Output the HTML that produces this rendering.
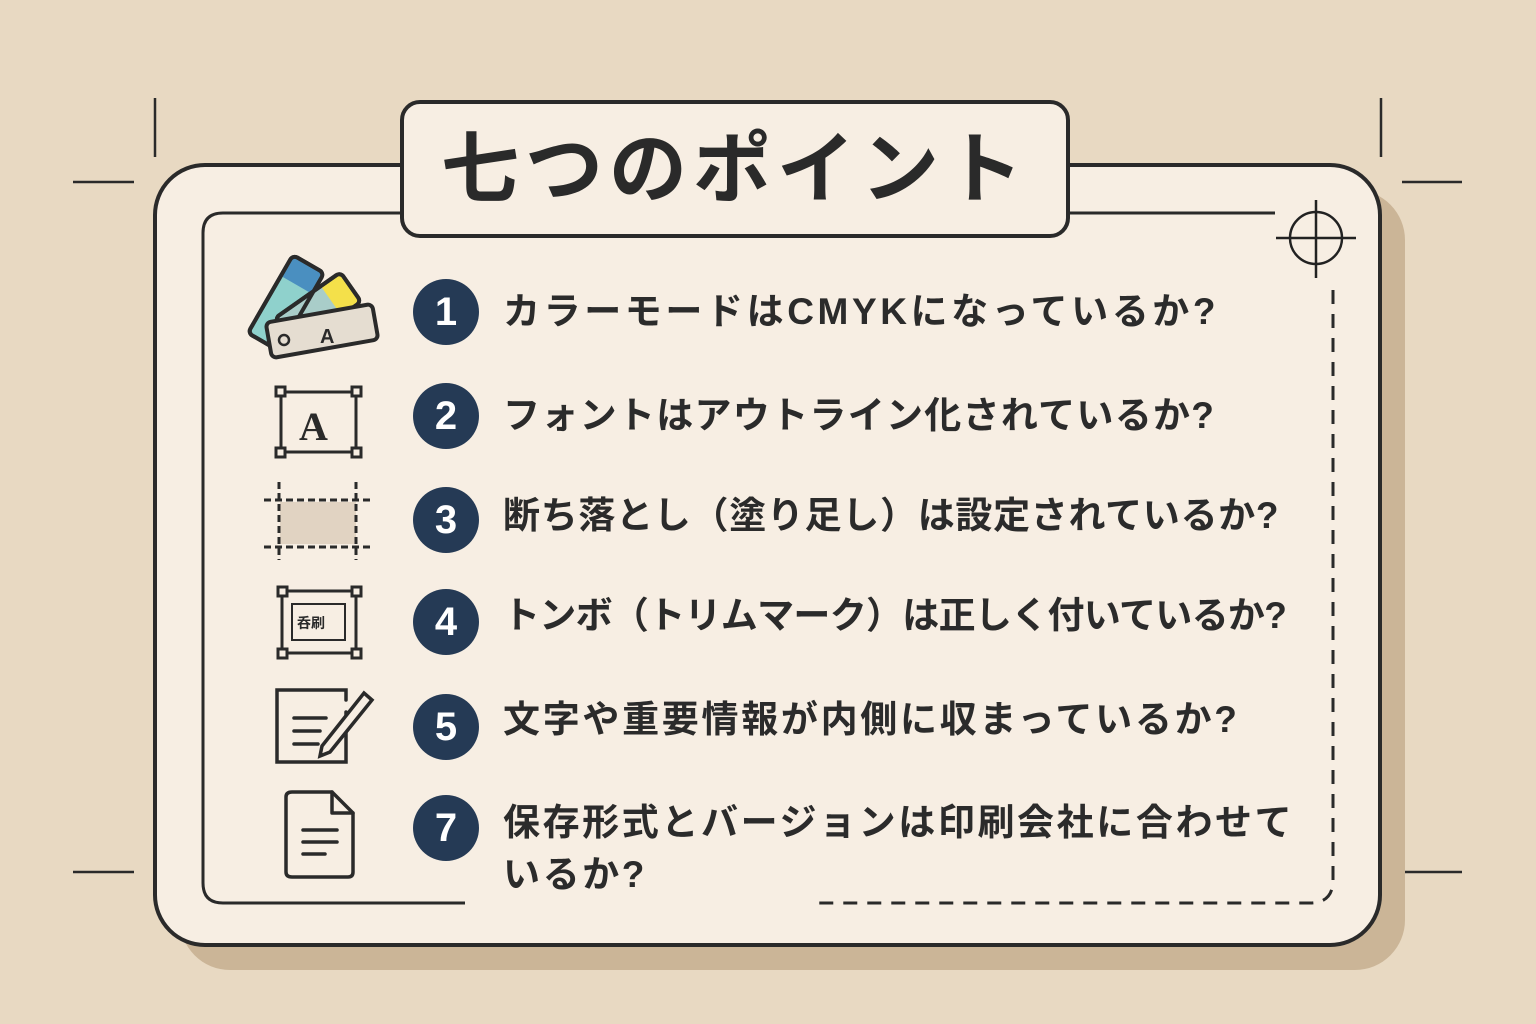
<!DOCTYPE html>
<html><head><meta charset="utf-8"><style>
body{margin:0;width:1536px;height:1024px;background:#e8d9c2;overflow:hidden;position:relative;font-family:"Liberation Sans","Noto Sans CJK JP",sans-serif}
.t{position:absolute;left:503px;font-size:37px;font-weight:bold;color:#2b2b2b;white-space:nowrap;line-height:52px}
.c{position:absolute;left:413px;width:66px;height:66px;border-radius:50%;background:#253a55;color:#fff;font-size:40px;font-weight:bold;text-align:center;line-height:66px}
</style></head><body>
<svg width="1536" height="1024" style="position:absolute;left:0;top:0">
<g stroke="#2a2a2a" stroke-width="2.5">
<line x1="155" y1="98" x2="155" y2="157"/><line x1="73" y1="182" x2="134" y2="182"/>
<line x1="1381" y1="98" x2="1381" y2="157"/><line x1="1402" y1="182" x2="1462" y2="182"/>
<line x1="73" y1="872" x2="134" y2="872"/><line x1="1402" y1="872" x2="1462" y2="872"/>
</g>
<rect x="180" y="190" width="1225" height="780" rx="50" fill="#cbb597"/>
<rect x="155" y="165" width="1225" height="780" rx="50" fill="#f7eee3" stroke="#2a2a2a" stroke-width="4"/>
<path d="M400 213 H223 Q203 213 203 233 V883 Q203 903 223 903 H465" fill="none" stroke="#2a2a2a" stroke-width="3"/>
<line x1="1068" y1="213" x2="1275" y2="213" stroke="#2a2a2a" stroke-width="3"/>
<path d="M1333 290 V880 Q1333 903 1310 903 H818" fill="none" stroke="#2a2a2a" stroke-width="3" stroke-dasharray="14 10"/>
<g stroke="#222" stroke-width="2.5" fill="none"><circle cx="1316" cy="238" r="26"/><line x1="1276" y1="238" x2="1356" y2="238"/><line x1="1316" y1="200" x2="1316" y2="278"/></g>
<rect x="402" y="102" width="666" height="134" rx="18" fill="#f7eee3" stroke="#2a2a2a" stroke-width="4"/>
<!-- icon1 swatches -->
<g stroke="#2a2a2a" stroke-width="4" stroke-linejoin="round">
<rect x="268" y="258" width="36" height="90" rx="5" fill="#8fd1cc" transform="rotate(30 286 303)"/>
<rect x="300" y="270" width="36" height="80" rx="5" fill="#a9cdc9" transform="rotate(55 318 310)"/>
</g>
<rect x="270" y="260" width="32" height="22" fill="#4a8fc0" transform="rotate(30 286 303)"/>
<rect x="302" y="272" width="32" height="22" fill="#f4e04a" transform="rotate(55 318 310)"/>
<g stroke="#2a2a2a" stroke-width="4" stroke-linejoin="round">
<rect x="268" y="258" width="36" height="90" rx="5" fill="none" transform="rotate(30 286 303)"/>
<rect x="300" y="270" width="36" height="80" rx="5" fill="none" transform="rotate(55 318 310)"/>
<rect x="268" y="313" width="108" height="36" rx="5" fill="#e5ddd1" transform="rotate(-10 322 331)"/>
</g>
<circle cx="284" cy="340" r="5" fill="none" stroke="#2a2a2a" stroke-width="2.5"/>
<text x="320" y="343" font-size="20" font-weight="bold" fill="#2a2a2a" font-family="Liberation Sans">A</text>
<!-- icon2 -->
<g stroke="#2a2a2a" stroke-width="3" fill="#f7eee3">
<line x1="281" y1="392" x2="356" y2="392"/><line x1="281" y1="452" x2="356" y2="452"/>
<line x1="281" y1="392" x2="281" y2="452"/><line x1="356" y1="392" x2="356" y2="452"/>
<rect x="276" y="387" width="9" height="9"/><rect x="352" y="387" width="9" height="9"/>
<rect x="276" y="448" width="9" height="9"/><rect x="352" y="448" width="9" height="9"/>
</g>
<text x="299" y="440" font-size="40" font-weight="bold" fill="#2a2a2a" font-family="Liberation Serif">A</text>
<!-- icon3 -->
<rect x="280" y="502" width="76" height="42" fill="#e1d3c2"/>
<g stroke="#2a2a2a" stroke-width="3" stroke-dasharray="7 4" fill="none">
<line x1="264" y1="500" x2="374" y2="500"/><line x1="264" y1="547" x2="374" y2="547"/>
<line x1="279" y1="482" x2="279" y2="560"/><line x1="356" y1="482" x2="356" y2="560"/>
</g>
<!-- icon4 -->
<g stroke="#2a2a2a" stroke-width="3" fill="#f7eee3">
<line x1="282" y1="591" x2="356" y2="591"/><line x1="282" y1="653" x2="356" y2="653"/>
<line x1="282" y1="591" x2="282" y2="653"/><line x1="356" y1="591" x2="356" y2="653"/>
<rect x="292" y="604" width="53" height="36" stroke-width="2"/>
<rect x="278" y="587" width="9" height="9"/><rect x="352" y="587" width="9" height="9"/>
<rect x="278" y="649" width="9" height="9"/><rect x="352" y="649" width="9" height="9"/>
</g>
<text x="297" y="628" font-size="14" font-weight="bold" fill="#2a2a2a">呑刷</text>
<!-- icon5 -->
<g stroke="#2a2a2a" stroke-width="3.5" fill="none" stroke-linecap="round">
<path d="M346 712 V762 H277 V690 H346 V700"/>
<line x1="294" y1="718" x2="326" y2="718"/><line x1="294" y1="731" x2="320" y2="731"/><line x1="294" y1="744" x2="318" y2="744"/>
<path d="M322 746 L364 693 L372 700 L330 752 L320 756 Z" fill="#f7eee3"/>
</g>
<!-- icon6 -->
<g stroke="#2a2a2a" stroke-width="3.5" fill="none" stroke-linejoin="round" stroke-linecap="round">
<path d="M292 792 H332 L353 813 V872 Q353 877 348 877 H292 Q286 877 286 872 V797 Q286 792 292 792 Z"/>
<path d="M332 792 V813 H353"/>
<line x1="303" y1="830" x2="337" y2="830"/><line x1="303" y1="842" x2="337" y2="842"/><line x1="303" y1="854" x2="325" y2="854"/>
</g>
</svg>
<div style="position:absolute;left:402px;top:102px;width:666px;height:134px;text-align:center;line-height:134px;font-size:78px;font-weight:bold;color:#2a2a2a;letter-spacing:6px">七つのポイント</div>
<div class="c" style="top:279px">1</div><div class="t" style="top:286px;letter-spacing:3.6px">カラーモードはCMYKになっているか?</div>
<div class="c" style="top:383px">2</div><div class="t" style="top:390px;letter-spacing:1.3px">フォントはアウトライン化されているか?</div>
<div class="c" style="top:487px">3</div><div class="t" style="top:490px;letter-spacing:0.7px">断ち落とし（塗り足し）は設定されているか?</div>
<div class="c" style="top:589px">4</div><div class="t" style="top:590px;letter-spacing:-0.7px">トンボ（トリムマーク）は正しく付いているか?</div>
<div class="c" style="top:694px">5</div><div class="t" style="top:694px;letter-spacing:2.7px">文字や重要情報が内側に収まっているか?</div>
<div class="c" style="top:795px">7</div><div class="t" style="top:797px;letter-spacing:2.6px">保存形式とバージョンは印刷会社に合わせて<br>いるか?</div>
</body></html>
